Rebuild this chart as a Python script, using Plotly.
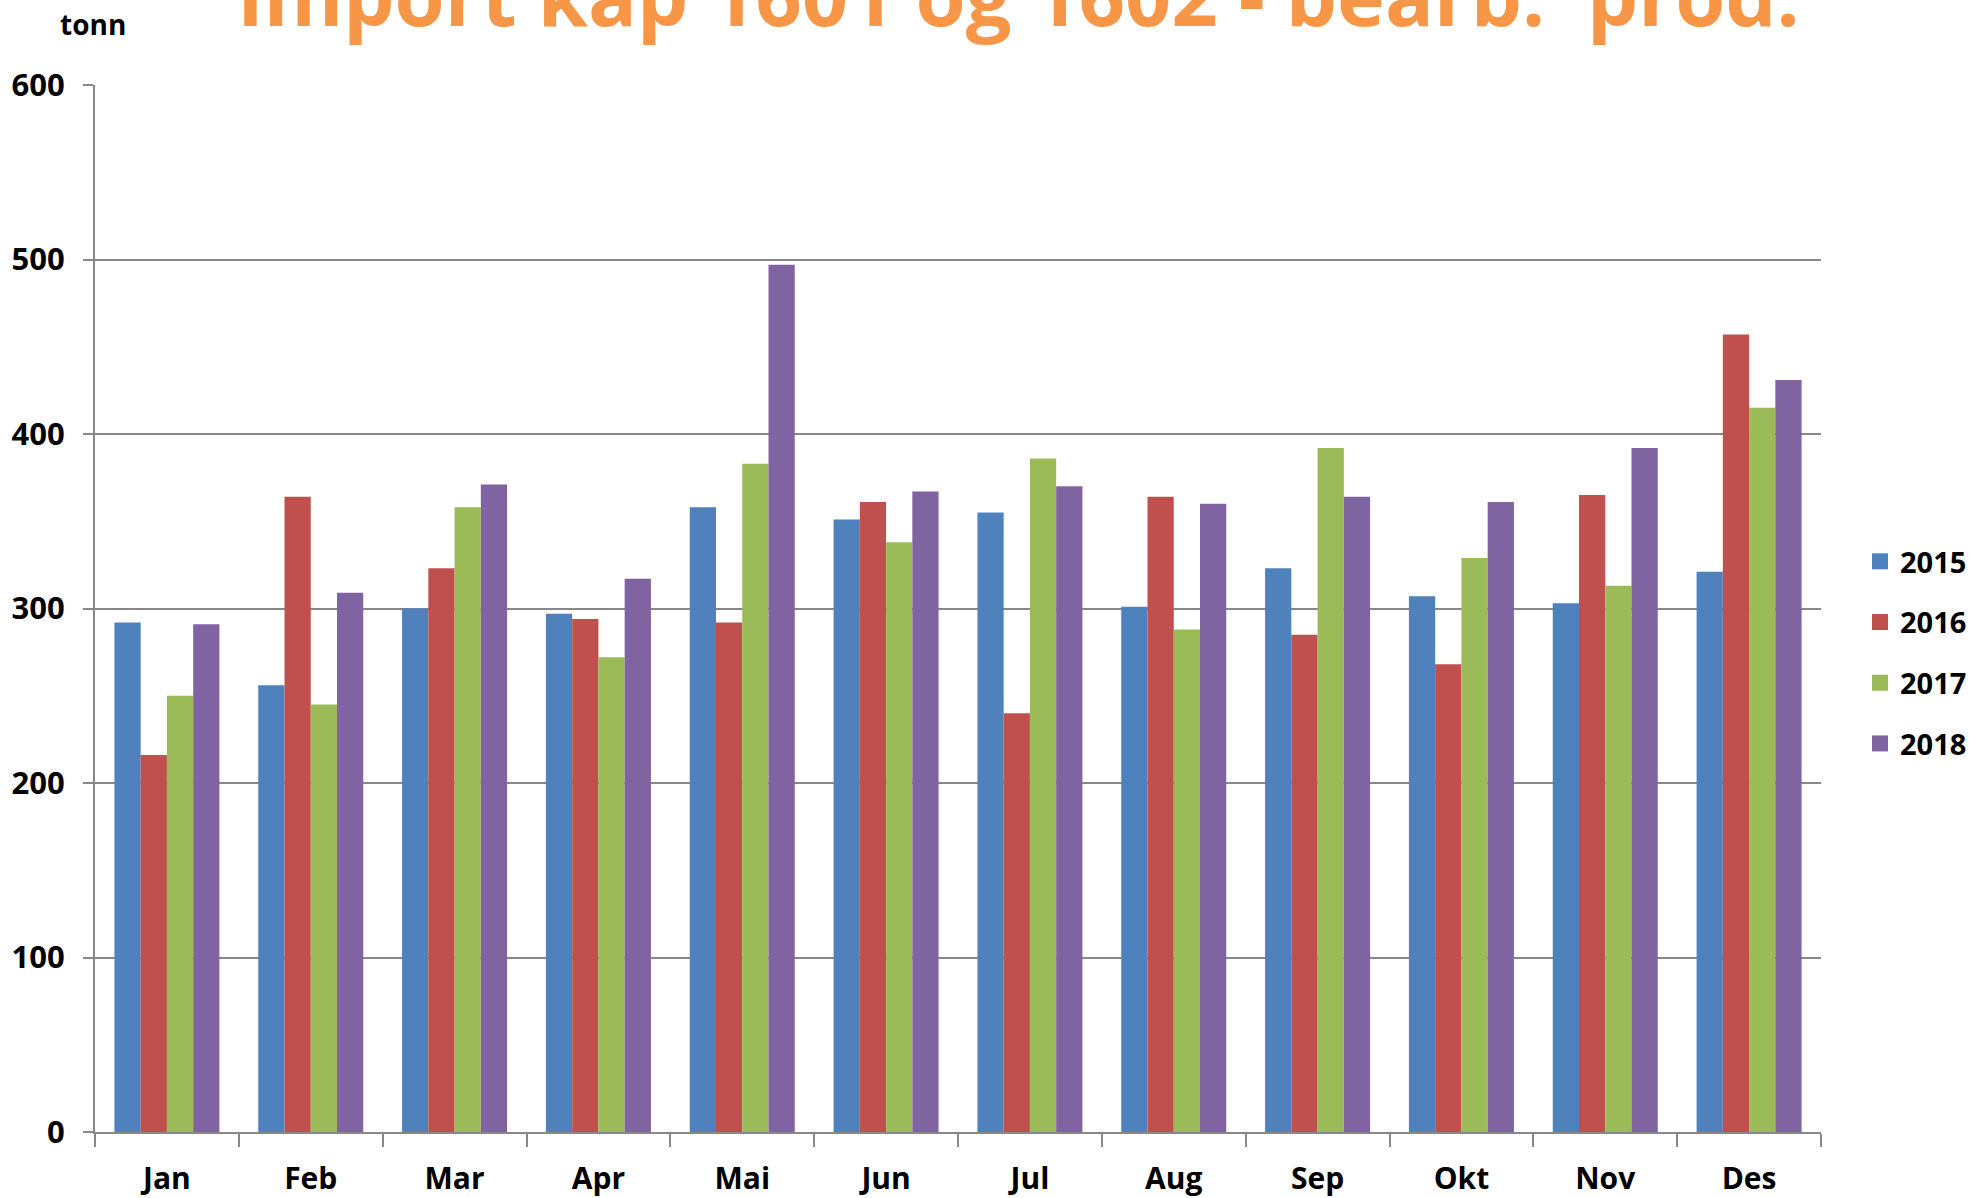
import plotly.graph_objects as go

months = ["Jan", "Feb", "Mar", "Apr", "Mai", "Jun", "Jul", "Aug", "Sep", "Okt", "Nov", "Des"]
v2015 = [292, 256, 300, 297, 358, 351, 355, 301, 323, 307, 303, 321]
v2016 = [216, 364, 323, 294, 292, 361, 240, 364, 285, 268, 365, 457]
v2017 = [250, 245, 358, 272, 383, 338, 386, 288, 392, 329, 313, 415]
v2018 = [291, 309, 371, 317, 497, 367, 370, 360, 364, 361, 392, 431]
series_names = ["2015", "2016", "2017", "2018"]
series_values = [v2015, v2016, v2017, v2018]
colors = ["#4F81BD", "#C0504D", "#9BBB59", "#8064A2"]
yticks = [0, 100, 200, 300, 400, 500, 600]

FONT = "Open Sans"
W, H = 1973, 1198
L, R, T, B = 95, 152, 85, 66

fig = go.Figure()
for name, vals, col in zip(series_names, series_values, colors):
    fig.add_trace(go.Bar(x=months, y=vals, name=name, marker=dict(color=col, line=dict(width=0)),
                         legendgroup=name, showlegend=False))
for name, col in zip(series_names, colors):
    fig.add_trace(go.Scatter(x=[None], y=[None], mode="markers", name=name, legendgroup=name,
                             marker=dict(symbol="square", size=18, color=col), showlegend=True,
                             hoverinfo="skip"))

fig.update_layout(
    width=W, height=H,
    margin=dict(l=L, r=R, t=T, b=B, autoexpand=False),
    paper_bgcolor="white", plot_bgcolor="white",
    barmode="group", bargap=0.27, bargroupgap=0,
    font=dict(family=FONT, color="black", size=30, weight="bold"),
    showlegend=True,
    legend=dict(x=1.0226, xanchor="left", y=0.458, yanchor="middle",
                font=dict(family=FONT, size=29, color="black", weight="bold"),
                tracegroupgap=20, itemwidth=30, itemsizing="trace", bgcolor="rgba(0,0,0,0)"),
    xaxis=dict(type="category", categoryorder="array", categoryarray=months,
               showline=True, linecolor="#888888", linewidth=2,
               ticks="outside", tickson="boundaries", ticklen=13, tickwidth=2, tickcolor="#888888",
               showgrid=False, ticklabelstandoff=19,
               tickfont=dict(family=FONT, size=30, color="black", weight="bold")),
    yaxis=dict(range=[0, 600], tickvals=yticks, ticktext=[str(v) for v in yticks],
               showline=True, linecolor="#888888", linewidth=2,
               showgrid=True, gridcolor="#888888", gridwidth=2,
               ticks="outside", ticklen=10, tickwidth=2, tickcolor="#888888",
               ticklabelstandoff=12, zeroline=False,
               tickfont=dict(family=FONT, size=31, color="black", weight="bold")),
)

ph = H - T - B
pw = W - L - R
fig.add_annotation(text="Import kap 1601 og 1602 - bearb.  prod.", xref="paper", yref="paper",
                   x=(235 - L) / pw, xanchor="left", y=1 + (T + 6) / ph, yanchor="middle",
                   showarrow=False, font=dict(family=FONT, size=81, color="#F79646", weight="bold"))
fig.add_annotation(text="tonn", xref="paper", yref="paper",
                   x=(93 - L) / pw, xanchor="center", y=1 + (T - 24) / ph, yanchor="middle",
                   showarrow=False, font=dict(family=FONT, size=28, color="black", weight="bold"))

fig.write_html("out.html", config={"displayModeBar": False},
               post_script="document.body.style.margin='0';")
